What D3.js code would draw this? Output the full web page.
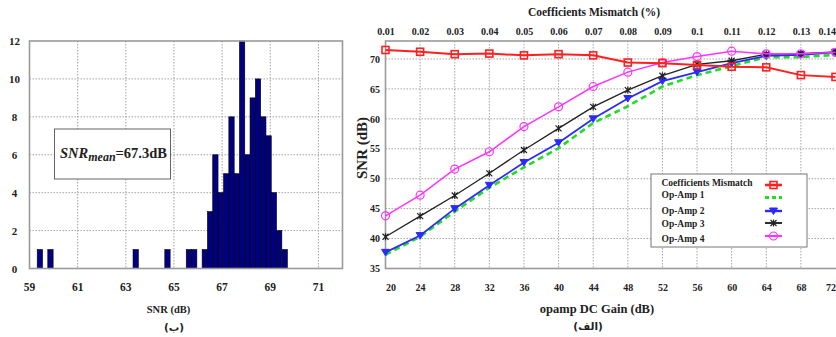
<!DOCTYPE html>
<html><head><meta charset="utf-8">
<script src="https://cdn.jsdelivr.net/npm/d3@7"></script>
<style>
body{margin:0;background:#fff;}
svg{display:block;}
text{font-family:"Liberation Serif","Times New Roman",serif;font-weight:bold;fill:#222;}
</style></head>
<body>
<svg id="c" width="836" height="337"></svg>
<script>
// ---------- Left histogram data ----------
const binLefts = [59.32,59.76,63.30,64.62,65.51,65.73,66.17,66.39,66.61,66.83,67.06,67.28,67.50,67.72,67.94,68.16,68.38,68.60,68.82,69.04,69.26,69.49];
const binCounts = [1,1,1,1,1,1,1,3,6,4,5,8,5,12,6,9,10,8,7,4,2,1];
const binWidth = 0.221;
const histXTicks = [59,61,63,65,67,69,71];
const histYTicks = [0,2,4,6,8,10,12];

// ---------- Right line chart data ----------
const gain = [20,24,28,32,36,40,44,48,52,56,60,64,68,72];
const mismatch = [0.01,0.02,0.03,0.04,0.05,0.06,0.07,0.08,0.09,0.1,0.11,0.12,0.13,0.14];
const mismatchLabels = ["0.01","0.02","0.03","0.04","0.05","0.06","0.07","0.08","0.09","0.1","0.11","0.12","0.13","0.14"];
const coeffMismatch = [71.5,71.2,70.8,70.9,70.6,70.8,70.6,69.4,69.3,69.0,68.7,68.6,67.3,67.0];
const opAmp1 = [37.3,40.3,44.5,48.5,51.9,55.1,59.3,62.1,65.4,67.3,68.8,70.3,70.3,70.7];
const opAmp2 = [37.7,40.5,45.0,48.9,52.7,56.0,60.0,63.4,66.3,67.8,69.3,70.5,70.7,71.1];
const opAmp3 = [40.3,43.75,47.2,50.9,54.8,58.4,62.0,64.8,67.2,69.1,69.7,70.8,70.9,71.2];
const opAmp4 = [43.8,47.25,51.6,54.5,58.7,62.0,65.4,67.8,69.4,70.4,71.3,70.85,70.85,71.1];
const snrTicks = [35,40,45,50,55,60,65,70];
const legendLabels = ["Coefficients Mismatch","Op-Amp 1","Op-Amp 2","Op-Amp 3","Op-Amp 4"];

const svg = d3.select("#c");
const gridCol = "#9a9a9a", frameCol = "#9a9a9a";

// ================= LEFT PANEL =================
const L = {x0:29.5, x1:342.5, y0:41, y1:268.5};
const hx = d3.scaleLinear().domain([59,72]).range([L.x0,L.x1]);
const hy = d3.scaleLinear().domain([0,12]).range([L.y1,L.y0]);
const gl = svg.append("g");
gl.selectAll(".vg").data(histXTicks.filter(d=>d>59)).enter().append("line")
  .attr("x1",d=>hx(d)).attr("x2",d=>hx(d)).attr("y1",L.y0).attr("y2",L.y1)
  .attr("stroke",gridCol).attr("stroke-width",0.9).attr("stroke-dasharray","1.5,1.5");
gl.selectAll(".hg").data(histYTicks.filter(d=>d>0&&d<12)).enter().append("line")
  .attr("x1",L.x0).attr("x2",L.x1).attr("y1",d=>hy(d)).attr("y2",d=>hy(d))
  .attr("stroke",gridCol).attr("stroke-width",0.9).attr("stroke-dasharray","1.5,1.5");
gl.selectAll("rect.bar").data(binLefts).enter().append("rect")
  .attr("x",d=>hx(d)).attr("width",d=>hx(d+binWidth)-hx(d))
  .attr("y",(d,i)=>hy(binCounts[i])).attr("height",(d,i)=>hy(0)-hy(binCounts[i]))
  .attr("fill","#000080").attr("stroke","#000").attr("stroke-width",0.6);
gl.append("rect").attr("x",L.x0).attr("y",L.y0).attr("width",L.x1-L.x0).attr("height",L.y1-L.y0)
  .attr("fill","none").attr("stroke",frameCol).attr("stroke-width",1.6);
gl.selectAll(".xl").data(histXTicks).enter().append("text")
  .attr("x",d=>hx(d)).attr("y",291).attr("text-anchor","middle").attr("font-size",11.5).text(d=>d);
gl.selectAll(".yl").data(histYTicks).enter().append("text")
  .attr("x",14.5).attr("y",d=>hy(d)+4).attr("text-anchor","middle").attr("font-size",11).text(d=>d);
gl.append("text").attr("x",168.5).attr("y",313).attr("text-anchor","middle").attr("font-size",10.5).text("SNR (dB)");
gl.append("text").attr("x",174).attr("y",331).attr("text-anchor","middle").attr("font-size",10.5)
  .style("font-family","'DejaVu Sans','Noto Sans',sans-serif").text("(ب)");
gl.append("rect").attr("x",54.5).attr("y",129).attr("width",116).attr("height",50)
  .attr("fill","#fff").attr("stroke","#555").attr("stroke-width",0.9);
const mt = gl.append("text").attr("x",60).attr("y",158).attr("font-size",14.5);
mt.append("tspan").attr("font-style","italic").text("SNR");
mt.append("tspan").attr("font-style","italic").attr("font-size",12).attr("dy",3).text("mean");
mt.append("tspan").attr("dy",-3).text("=67.3dB");

// ================= RIGHT PANEL =================
const R = {x0:385.5, x1:835.5, y0:41, y1:268.5};
const x = d3.scaleLinear().domain([20,72]).range([R.x0,R.x1]);
const xm = d3.scaleLinear().domain([0.01,0.14]).range([R.x0,R.x1]);
const y = d3.scaleLinear().domain([35,73]).range([R.y1,R.y0]);
const gr = svg.append("g");
gr.selectAll(".vg").data(gain.filter(d=>d>20&&d<72)).enter().append("line")
  .attr("x1",d=>x(d)).attr("x2",d=>x(d)).attr("y1",R.y0).attr("y2",R.y1)
  .attr("stroke",gridCol).attr("stroke-width",0.9).attr("stroke-dasharray","1.5,1.5");
gr.selectAll(".hg").data(snrTicks.filter(d=>d>35)).enter().append("line")
  .attr("x1",R.x0).attr("x2",R.x1).attr("y1",d=>y(d)).attr("y2",d=>y(d))
  .attr("stroke",gridCol).attr("stroke-width",0.9).attr("stroke-dasharray","1.5,1.5");
gr.append("rect").attr("x",R.x0).attr("y",R.y0).attr("width",R.x1-R.x0+4).attr("height",R.y1-R.y0)
  .attr("fill","none").attr("stroke",frameCol).attr("stroke-width",1.6);

const last = gain.length-1;
const bx = d3.axisBottom(x).tickValues(gain).tickSize(0).tickPadding(0);
const bxg = gr.append("g").attr("transform",`translate(0,${R.y1})`).call(bx);
bxg.select(".domain").remove();
bxg.selectAll("text").attr("y",22.5).attr("dy",0).attr("font-size",10).attr("fill","#222")
  .style("font-family","'Liberation Serif',serif").style("font-weight","bold")
  .attr("text-anchor",(d,i)=>i===last?"end":"middle")
  .attr("dx",(d,i)=>i===0?5:(i===last?0:0));
const tx = d3.axisTop(xm).tickValues(mismatch).tickFormat((d,i)=>mismatchLabels[i]).tickSize(0).tickPadding(0);
const txg = gr.append("g").attr("transform",`translate(0,${R.y0})`).call(tx);
txg.select(".domain").remove();
txg.selectAll("text").attr("y",-6.5).attr("font-size",10).attr("fill","#222")
  .style("font-family","'Liberation Serif',serif").style("font-weight","bold")
  .attr("text-anchor",(d,i)=>i===last?"end":"middle");
const ly = d3.axisLeft(y).tickValues(snrTicks).tickSize(0).tickPadding(0);
const lyg = gr.append("g").attr("transform",`translate(${R.x0},0)`).call(ly);
lyg.select(".domain").remove();
lyg.selectAll("text").attr("x",-5.5).attr("font-size",10).attr("fill","#222")
  .style("font-family","'Liberation Serif',serif").style("font-weight","bold");

gr.append("text").attr("x",594).attr("y",16).attr("text-anchor","middle").attr("font-size",11.5).text("Coefficients Mismatch (%)");
gr.append("text").attr("x",597).attr("y",313).attr("text-anchor","middle").attr("font-size",12.5).text("opamp DC Gain (dB)");
gr.append("text").attr("transform","translate(367,148) rotate(-90)").attr("text-anchor","middle").attr("font-size",15).text("SNR (dB)");
gr.append("text").attr("x",588).attr("y",330).attr("text-anchor","middle").attr("font-size",10.5)
  .style("font-family","'DejaVu Sans','Noto Sans',sans-serif").text("(الف)");

const series = [
  {name:legendLabels[0], vals:coeffMismatch, xs:mismatch, sx:xm, color:"#ff2020", w:2, dash:null, mk:"square"},
  {name:legendLabels[1], vals:opAmp1, xs:gain, sx:x, color:"#22dd22", w:2.6, dash:"6,4", mk:null},
  {name:legendLabels[2], vals:opAmp2, xs:gain, sx:x, color:"#2a2aff", w:1.8, dash:null, mk:"tri"},
  {name:legendLabels[3], vals:opAmp3, xs:gain, sx:x, color:"#222", w:1.3, dash:null, mk:"star"},
  {name:legendLabels[4], vals:opAmp4, xs:gain, sx:x, color:"#ff33ff", w:1.5, dash:null, mk:"circle"}
];
const drawOrder = [1,2,3,4,0];
function marker(g, type, cx, cy, color){
  if(type==="square") g.append("rect").attr("x",cx-3.5).attr("y",cy-3.5).attr("width",7).attr("height",7)
    .attr("fill","none").attr("stroke",color).attr("stroke-width",1.6);
  else if(type==="circle") g.append("circle").attr("cx",cx).attr("cy",cy).attr("r",4)
    .attr("fill","none").attr("stroke",color).attr("stroke-width",1.2);
  else if(type==="tri") g.append("path").attr("d",`M${cx-4},${cy-3}L${cx+4},${cy-3}L${cx},${cy+3.5}Z`)
    .attr("fill",color).attr("stroke",color).attr("stroke-width",1);
  else if(type==="star") g.append("path").attr("d",`M${cx-3},${cy-3}L${cx+3},${cy+3}M${cx-3},${cy+3}L${cx+3},${cy-3}M${cx},${cy-3.5}L${cx},${cy+3.5}`)
    .attr("stroke",color).attr("stroke-width",1.2);
}
const sg = gr.append("g");
drawOrder.forEach(k=>{
  const s = series[k];
  const line = d3.line().x((d,i)=>s.sx(s.xs[i])).y(d=>y(d));
  sg.append("path").datum(s.vals).attr("d",line).attr("fill","none").attr("stroke",s.color)
    .attr("stroke-width",s.w).attr("stroke-dasharray",s.dash);
  if(s.mk) s.vals.forEach((v,i)=>marker(sg,s.mk,s.sx(s.xs[i]),y(v),s.color));
});

const lg = gr.append("g");
lg.append("rect").attr("x",651).attr("y",174).attr("width",156).attr("height",73)
  .attr("fill","#fff").attr("stroke","#777").attr("stroke-width",1);
const legY = [185,197.5,211,223,236];
const textY = [185.5,198,213.5,227,241.5];
series.forEach((s,i)=>{
  lg.append("text").attr("x",661.5).attr("y",textY[i]).attr("font-size",9.5).text(s.name);
  lg.append("line").attr("x1",765).attr("x2",782).attr("y1",legY[i]).attr("y2",legY[i])
    .attr("stroke",s.color).attr("stroke-width",s.w+0.6).attr("stroke-dasharray",s.dash?"4,3":null);
  if(s.mk) marker(lg,s.mk,773.5,legY[i],s.color);
});
</script>
</body></html>
